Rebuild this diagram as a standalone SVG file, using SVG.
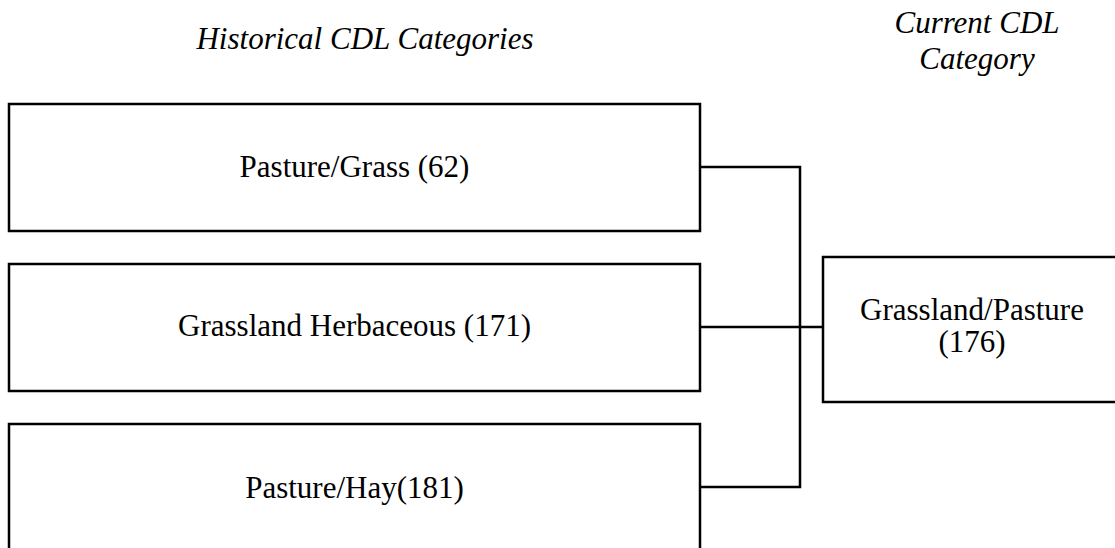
<svg xmlns="http://www.w3.org/2000/svg" width="1115" height="548" viewBox="0 0 1115 548">
<style>
.box{fill:#fff;stroke:#000;stroke-width:2.5}
.t{font-family:"Liberation Serif","Times New Roman",serif;font-size:31px;fill:#000;text-anchor:middle}
.h{font-style:italic}
.c{fill:none;stroke:#000;stroke-width:2.5}
</style>
<rect width="1115" height="548" fill="#fff"/>
<text class="t h" x="365" y="49">Historical CDL Categories</text>
<text class="t h" x="977" y="33">Current CDL</text>
<text class="t h" x="977" y="69">Category</text>
<g id="n1"><rect class="box" x="9" y="104" width="691" height="127"/><text class="t" x="354.5" y="177">Pasture/Grass (62)</text></g>
<g id="n2"><rect class="box" x="9" y="264" width="691" height="127"/><text class="t" x="354.5" y="336">Grassland Herbaceous (171)</text></g>
<g id="n3"><rect class="box" x="9" y="424" width="691" height="140"/><text class="t" x="354.5" y="498">Pasture/Hay(181)</text></g>
<g id="n4"><rect class="box" x="823" y="257" width="298" height="145"/><text class="t" x="972" y="320">Grassland/Pasture</text><text class="t" x="972" y="352">(176)</text></g>
<g id="connectors">
<path class="c" d="M700 167H800V487H700"/>
<path class="c" d="M700 327H823"/>
</g>
</svg>
